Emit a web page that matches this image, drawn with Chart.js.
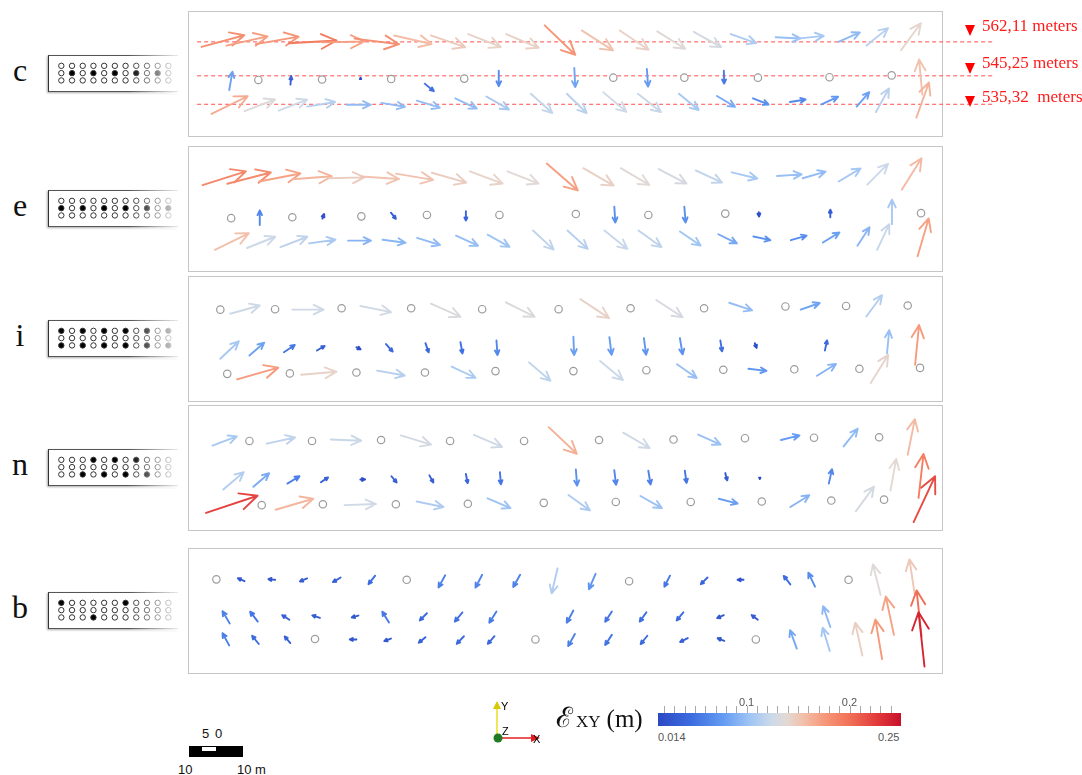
<!DOCTYPE html>
<html>
<head>
<meta charset="utf-8">
<script src="https://cdn.jsdelivr.net/npm/chart.js@4.4.1/dist/chart.umd.min.js"></script>
<style>
body{margin:0;background:#fff;width:1082px;height:775px;position:relative;overflow:hidden;font-family:"Liberation Sans",Arial,sans-serif;color:#111}
canvas{position:absolute;display:block}
.panel{position:absolute;left:188px;width:755px;height:126px;border:1px solid #c6c6c6;box-sizing:border-box}
.letter{position:absolute;left:4px;width:32px;text-align:center;font-family:"Liberation Serif",serif;font-size:32px;line-height:32px}
.iconbox{position:absolute;left:48px;width:130px;height:37px;box-sizing:border-box;border-left:1px solid #333;border-top:1px solid #555;border-bottom:1px solid #555;box-shadow:-1px 1px 2px #aaa}
.fade{position:absolute;left:128px;width:54px;height:41px;background:linear-gradient(to right,rgba(255,255,255,0),rgba(255,255,255,0.95))}
.lvl{position:absolute;left:982px;font-family:"Liberation Serif",serif;font-size:17px;line-height:17px;color:#ff1a1a;white-space:pre}
.tri{position:absolute;left:965px;width:0;height:0;border-left:5.5px solid transparent;border-right:5.5px solid transparent;border-top:11px solid #f00}
.txt{position:absolute;font-size:13px;line-height:13px}
</style>
</head>
<body>
<script>
// vector glyphs: [x (m), y (m), dx (m), dy (m)] ; circles: [x, y]
const cArrows = [
[1.7,18.5,.173,.051],[6.7,18.8,.167,.040],[12.7,19.1,.173,.033],[19.4,19.3,.193,.012],[26.1,19.5,.172,.004],[32.7,20.3,.180,-.024],[40.7,21.0,.152,-.037],[48.1,21.0,.140,-.051],[55.7,21.3,.132,-.056],[63.4,21.3,.132,-.060],[71.2,23.2,.124,-.128],[78.7,22.1,.127,-.087],[86.4,22.1,.117,-.084],[94.0,21.9,.113,-.076],[101.4,21.8,.111,-.067],[108.9,21.3,.103,-.039],[118.0,20.6,.100,-.005],[122.4,20.3,.107,.012],[130.7,19.6,.087,.041],[136.4,18.8,.087,.076],[143.4,17.8,.080,.117],
[7.3,9.1,.013,.080],[19.7,10.3,.003,.036],[33.9,11.5,0,.006],[46.9,10.5,.037,-.033],[61.9,13.3,0,-.067],[77.2,13.9,.004,-.083],[91.9,13.7,.005,-.077],[107.5,13.3,.001,-.056],[147.7,8.1,-.013,.153],
[3.7,3.9,.147,.077],[10.4,4.5,.124,.051],[17.3,4.6,.116,.048],[23.1,5.5,.113,.020],[31.1,5.9,.097,0],[38.1,6.3,.096,-.017],[45.3,6.8,.093,-.031],[53.1,7.3,.087,-.045],[59.4,7.7,.091,-.057],[68.4,8.3,.087,-.084],[75.7,8.3,.080,-.084],[83.1,8.6,.093,-.085],[90.1,8.3,.093,-.080],[98.4,8.3,.080,-.071],[106.1,7.8,.073,-.047],[113.4,7.3,.063,-.027],[120.9,6.5,.063,.011],[127.3,6.0,.067,.033],[134.4,5.5,.051,.063],[138.3,4.3,.053,.103],[146.5,3.1,.051,.153]
];
const cCircles = [[13.2,11.3],[26.1,11.4],[40.1,11.5],[54.9,11.6],[85.1,11.8],[99.5,11.8],[114.4,11.8],[128.9,11.9],[141.5,12.3]];

const eArrows = [
[1.9,17.8,.176,.060],[6.9,18.1,.177,.049],[13.4,18.6,.167,.035],[20.1,19.1,.160,.013],[27.4,19.3,.147,.004],[34.1,19.7,.153,-.011],[41.1,20.3,.151,-.027],[48.4,20.5,.140,-.043],[56.1,20.8,.133,-.053],[63.7,20.8,.127,-.053],[71.7,22.5,.126,-.117],[79.1,21.5,.123,-.076],[86.7,21.5,.116,-.073],[94.4,21.3,.113,-.063],[101.9,21.0,.107,-.053],[109.2,20.6,.104,-.027],[118.4,19.8,.100,.007],[123.6,19.3,.093,.029],[130.9,18.6,.089,.057],[136.7,17.9,.084,.091],[143.7,16.8,.080,.137],
[13.5,9.1,0,.064],[26.2,10.5,.007,.020],[40.1,11.8,.020,-.027],[55.3,12.1,0,-.040],[85.4,13.1,.004,-.069],[99.6,13.1,.005,-.069],[114.7,11.9,.001,-.019],[129.2,10.8,0,.033],[141.7,9.3,0,.107],
[4.4,3.7,.137,.072],[10.9,4.1,.115,.049],[17.7,4.3,.109,.045],[23.5,5.1,.107,.016],[31.4,5.7,.093,0],[38.4,5.9,.093,-.013],[45.4,6.3,.093,-.031],[53.3,6.8,.089,-.044],[59.7,7.0,.089,-.053],[68.9,7.9,.084,-.083],[75.9,7.9,.082,-.080],[83.4,7.9,.093,-.080],[90.3,7.9,.093,-.072],[98.7,7.7,.084,-.061],[106.5,7.1,.075,-.040],[113.6,6.6,.069,-.016],[121.2,5.8,.064,.020],[127.7,5.3,.067,.044],[134.7,4.6,.049,.080],[138.7,3.7,.049,.112],[146.9,2.3,.045,.165]
];
const eCircles = [[7.7,10.6],[20.1,10.8],[34.1,11.0],[47.4,11.3],[62.1,11.3],[77.6,11.5],[92.3,11.3],[107.9,11.6],[147.6,11.7]];

const iArrows = [
[7.5,18.1,.120,.036],[20.1,19.0,.127,0],[33.9,19.8,.125,-.027],[48.2,20.3,.120,-.057],[63.4,20.6,.117,-.063],[78.5,21.3,.117,-.083],[93.9,21.1,.107,-.075],[108.7,20.5,.093,-.033],[123.2,19.0,.077,.029],[136.5,17.5,.064,.093],
[5.5,8.3,.075,.076],[11.4,9.0,.060,.056],[18.4,9.7,.044,.032],[25.1,10.1,.031,.020],[33.1,10.8,.017,-.009],[39.1,11.5,.027,-.033],[47.1,11.7,.013,-.040],[54.2,11.9,.008,-.049],[61.5,12.3,.004,-.064],[77.1,13.1,.003,-.080],[84.4,13.0,.009,-.077],[91.4,12.8,.009,-.073],[98.7,12.8,.011,-.071],[106.9,12.3,.007,-.048],[113.9,11.7,.007,-.021],[128.1,10.1,.009,.044],[140.7,9.5,.009,.100],[146.4,7.0,.016,.173],
[8.9,3.8,.167,.051],[21.9,4.8,.143,.013],[37.3,5.7,.112,-.021],[52.4,6.6,.097,-.049],[68.1,7.5,.087,-.080],[82.5,7.8,.093,-.083],[98.1,7.1,.080,-.060],[112.6,6.1,.073,-.009],[126.5,4.6,.077,.051],[137.4,3.0,.071,.123]
];
const iCircles = [[5.5,19.0],[16.6,19.1],[30.1,19.3],[44.2,19.3],[58.6,19.1],[74.1,19.1],[88.7,19.3],[103.6,19.3],[120.1,19.7],[132.4,19.8],[144.9,19.9],
[6.9,5.0],[19.6,5.1],[33.1,5.3],[47.0,5.3],[61.3,5.6],[77.1,5.6],[91.9,5.8],[107.5,5.9],[121.9,6.0],[135.1,6.1],[147.4,6.3]];

const nArrows = [
[3.9,17.5,.099,.040],[14.9,17.9,.115,.027],[27.9,18.8,.123,-.005],[42.1,19.7,.123,-.040],[56.9,19.8,.115,-.052],[72.1,21.5,.114,-.116],[87.2,20.3,.107,-.067],[102.4,19.9,.091,-.044],[119.2,18.7,.075,.020],[131.9,17.3,.057,.077],[144.9,15.5,.029,.155],
[6.1,7.9,.083,.076],[12.2,8.5,.064,.059],[19.1,9.2,.049,.032],[25.9,9.5,.029,.021],[33.9,10.1,.019,0],[40.2,10.8,.021,-.027],[47.9,11.0,.016,-.031],[55.3,11.3,.007,-.040],[62.2,11.7,.004,-.053],[77.6,12.3,.005,-.071],[85.4,12.1,.007,-.063],[92.3,12.0,.009,-.060],[99.7,12.0,.007,-.053],[107.9,11.5,.008,-.032],[114.9,10.5,0,-.006],[128.9,9.2,.013,.063],[141.4,7.7,.023,.137],[147.1,6.1,.020,.191],
[2.6,2.8,.209,.075],[16.7,3.5,.153,.048],[30.7,4.5,.127,.005],[45.3,5.3,.109,-.024],[59.7,6.0,.093,-.043],[76.1,6.7,.087,-.067],[90.7,6.5,.087,-.053],[106.6,5.9,.076,-.021],[121.1,4.1,.077,.051],[134.4,3.2,.073,.107],[146.1,0.8,.087,.200]
];
const nCircles = [[11.4,18.5],[24.1,18.5],[38.1,18.7],[52.1,18.5],[67.1,18.5],[82.3,18.7],[97.4,18.8],[111.9,19.1],[125.9,19.2],[139.1,19.3],
[13.9,4.5],[26.3,4.7],[41.1,4.7],[55.7,4.8],[71.1,5.0],[85.7,5.2],[100.9,5.2],[115.3,5.3],[129.4,5.5],[140.1,5.7]];

const bArrows = [
[10.4,19.1,-.027,.013],[16.6,19.4,-.027,.003],[23.1,19.7,-.029,-.013],[29.9,19.9,-.031,-.020],[36.9,20.3,-.027,-.037],[51.1,20.4,-.027,-.053],[58.6,20.5,-.027,-.056],[66.3,20.5,-.028,-.053],[73.9,21.9,-.024,-.109],[81.6,20.7,-.027,-.067],[96.7,20.3,-.023,-.048],[104.3,19.9,-.027,-.029],[111.6,19.4,-.024,0],[121.1,18.4,-.027,.037],[126.1,17.9,-.027,.061],[139.4,16.1,-.031,.133],[146.3,16.4,-.021,.149],
[7.4,9.9,-.029,.053],[13.1,10.3,-.031,.043],[19.5,10.7,-.029,.020],[25.7,11.1,-.031,.011],[33.5,11.6,-.027,-.008],[39.7,10.1,-.027,.047],[47.4,12.1,-.029,-.031],[54.6,12.3,-.031,-.040],[61.5,12.5,-.029,-.049],[77.1,12.7,-.027,-.053],[84.9,12.5,-.027,-.045],[91.9,12.3,-.027,-.040],[99.4,12.3,-.027,-.035],[107.6,11.7,-.027,-.013],[114.5,10.7,-.025,.020],[129.2,9.1,-.029,.091],[142.1,7.4,-.033,.167],[147.7,7.1,-.020,.200],
[7.3,5.1,-.027,.053],[13.3,5.4,-.027,.036],[19.7,5.6,-.023,.029],[33.1,6.4,-.027,0],[40.1,6.6,-.027,-.011],[47.1,6.9,-.027,-.024],[54.9,7.1,-.029,-.033],[61.1,7.1,-.027,-.033],[77.4,7.6,-.027,-.053],[84.9,7.4,-.027,-.044],[92.1,7.2,-.027,-.036],[100.3,6.7,-.031,-.017],[107.7,6.1,-.027,.011],[122.4,4.4,-.027,.080],[129.1,3.9,-.029,.101],[135.7,2.9,-.029,.143],[139.7,2.1,-.027,.173],[148.3,0.5,-.024,.237]
];
const bCircles = [[4.7,19.5],[43.3,19.4],[88.4,19.1],[132.9,19.4],[24.7,6.5],[69.4,6.4],[114.1,6.4]];

// filled holes in the little section icons (columns, per row)
const iconC = [[], [2,4,6,8,10], []];
const iconE = [[], [1,3,5,7,9,11], []];
const iconI = [[1,3,5,7,9,11], [], [1,3,5,7,9,11]];
const iconN = [[4,6,8], [], [3,5,7,9]];
const iconB = [[1,7], [], [4]];

// reference levels drawn on panel c
const levelY = [19.6, 12.2, 6.0];
const levelNames = ['562,11 meters', '545,25 meters', '535,32  meters'];

// colour bar
const cbMin = 0.014, cbMax = 0.25;
const cbLabels = [0.1, 0.2];
const cbStep = 0.01;
const cmapStops = [[0,'#2b48c4'],[0.14,'#3d6de0'],[0.27,'#659cf2'],[0.38,'#a0c5f4'],[0.47,'#cdd9e8'],[0.53,'#e3d9d3'],[0.6,'#f3bfa9'],[0.68,'#f69a7c'],[0.78,'#f27459'],[0.9,'#e23b3c'],[1,'#c70f2a']];

const G = 50; // glyph scale, data units per metre of displacement
const pxPerM = 5;

Chart.defaults.font.family = "Liberation Sans";

function hexRgb(h){
return [parseInt(h.slice(1,3),16), parseInt(h.slice(3,5),16), parseInt(h.slice(5,7),16)];
}
function cmap(v){
let t = (v-cbMin)/(cbMax-cbMin);
t = Math.max(0, Math.min(1, t));
for(let i=1;i<cmapStops.length;i++){
if(t <= cmapStops[i][0]){
const [t0,c0] = cmapStops[i-1], [t1,c1] = cmapStops[i];
const f = (t-t0)/(t1-t0);
const a = hexRgb(c0), b = hexRgb(c1);
return `rgb(${a.map((x,k)=>Math.round(x+(b[k]-x)*f)).join(',')})`;
}
}
return cmapStops[cmapStops.length-1][1];
}

const arrowPlugin = {
id:'arrows',
afterDatasetsDraw(chart){
const {ctx, scales:{x, y}} = chart;
chart.data.datasets.forEach(ds => {
if(!ds.vectors) return;
ds.data.forEach(p => {
const x0 = x.getPixelForValue(p.x), y0 = y.getPixelForValue(p.y);
const x1 = x.getPixelForValue(p.x + G*p.dx), y1 = y.getPixelForValue(p.y + G*p.dy);
const len = Math.hypot(x1-x0, y1-y0);
const a = Math.atan2(y1-y0, x1-x0);
const h = Math.min(len, Math.max(3, len*0.32)), w = h*0.48;
const bx = x1 - h*Math.cos(a), by = y1 - h*Math.sin(a);
ctx.save();
ctx.strokeStyle = cmap(Math.hypot(p.dx, p.dy));
ctx.lineWidth = 1.9;
ctx.lineCap = 'round';
ctx.lineJoin = 'round';
ctx.beginPath();
ctx.moveTo(x0, y0);
ctx.lineTo(x1, y1);
ctx.moveTo(bx + w*Math.sin(a), by - w*Math.cos(a));
ctx.lineTo(x1, y1);
ctx.lineTo(bx - w*Math.sin(a), by + w*Math.cos(a));
ctx.stroke();
ctx.restore();
});
});
}
};

// tick marks and labels above the colour bar, placed with the bar's x scale
const cbTickPlugin = {
id:'cbTicks',
afterDraw(chart){
const {ctx, chartArea:a, scales:{x}} = chart;
ctx.save();
ctx.strokeStyle = '#a8a8a8';
ctx.lineWidth = 1;
for(let v = 0.02; v < cbMax; v += cbStep){
const px = Math.round(x.getPixelForValue(v)) + 0.5;
ctx.beginPath();
ctx.moveTo(px, a.top - 7);
ctx.lineTo(px, a.top);
ctx.stroke();
}
ctx.fillStyle = '#555';
ctx.font = '11px "Liberation Sans"';
ctx.textAlign = 'center';
ctx.textBaseline = 'alphabetic';
cbLabels.forEach(v => ctx.fillText(String(v), x.getPixelForValue(v), a.top - 7));
ctx.restore();
}
};

function addEl(cls, css, text){
const d = document.createElement('div');
d.className = cls;
d.style.cssText = css;
if(text) d.textContent = text;
document.body.appendChild(d);
return d;
}
function addCanvas(left, top, w, h){
const c = document.createElement('canvas');
c.width = w; c.height = h;
c.style.left = left+'px'; c.style.top = top+'px';
document.body.appendChild(c);
return c;
}

function makeIcon(top, filled){
addEl('iconbox', `top:${top}px`);
const pts = [], fill = [];
for(let r=1;r<=3;r++){
for(let k=1;k<=11;k++){
pts.push({x:k, y:r});
fill.push(filled[r-1].includes(k) ? '#000' : '#fff');
}
}
new Chart(addCanvas(48, top, 130, 37), {
type:'scatter',
data:{datasets:[{data:pts, pointRadius:2.7, pointBorderWidth:1, pointBorderColor:'#333', pointBackgroundColor:fill}]},
options:{responsive:false, animation:false, devicePixelRatio:1, events:[],
plugins:{legend:{display:false}, tooltip:{enabled:false}},
scales:{x:{display:false, min:0.224, max:11.43}, y:{display:false, min:0.2, max:3.9, reverse:true}}}
});
addEl('fade', `top:${top-2}px`);
}

function makePanel(letter, top, arrows, circles, icon, extra){
addEl('panel', `top:${top}px`);
addEl('letter', `top:${top+43}px`, letter);
makeIcon(top+44, icon);
const w = extra ? 817 : 755;
const datasets = [
{data:circles.map(([x,y]) => ({x,y})), pointRadius:3.7, pointBorderWidth:1.2, pointBorderColor:'#9c9c9c', pointBackgroundColor:'#fff'},
{data:arrows.map(([x,y,dx,dy]) => ({x,y,dx,dy})), pointRadius:0, vectors:true}
];
if(extra){
levelY.forEach(v => datasets.push({type:'line', data:[{x:0.8,y:v},{x:162.4,y:v}], borderColor:'#ff4d4d', borderWidth:1, borderDash:[4,3], pointRadius:0}));
}
new Chart(addCanvas(188, top, w, 126), {
type:'scatter',
data:{datasets},
options:{responsive:false, animation:false, devicePixelRatio:1, events:[],
layout:{padding:0},
plugins:{legend:{display:false}, tooltip:{enabled:false}},
scales:{x:{display:false, min:0, max:w/pxPerM}, y:{display:false, min:0, max:126/pxPerM}}},
plugins:[arrowPlugin]
});
}

makePanel('c', 11, cArrows, cCircles, iconC, true);
makePanel('e', 146, eArrows, eCircles, iconE, false);
makePanel('i', 276, iArrows, iCircles, iconI, false);
makePanel('n', 405, nArrows, nCircles, iconN, false);
makePanel('b', 548, bArrows, bCircles, iconB, false);

// level labels
[25, 63, 96].forEach(t => addEl('tri', `top:${t}px`));
[17, 54, 88].forEach((t,i) => addEl('lvl', `top:${t}px`, levelNames[i]));

// colour bar
new Chart(addCanvas(640, 686, 280, 42), {
type:'bar',
data:{labels:[''], datasets:[{data:[[cbMin, cbMax]], borderWidth:0, barPercentage:1, categoryPercentage:1,
backgroundColor: c => {
const a = c.chart.chartArea;
if(!a) return '#ccc';
const g = c.chart.ctx.createLinearGradient(a.left, 0, a.right, 0);
cmapStops.forEach(([t,col]) => g.addColorStop(t, col));
return g;
}}]},
options:{indexAxis:'y', responsive:false, animation:false, devicePixelRatio:1, events:[],
layout:{padding:{top:27, bottom:2, left:18, right:19}},
plugins:{legend:{display:false}, tooltip:{enabled:false}},
scales:{x:{display:false, type:'linear', min:cbMin, max:cbMax}, y:{display:false}}},
plugins:[cbTickPlugin]
});
addEl('txt', 'left:658px;top:731px;font-size:11px;color:#555', '0.014');
addEl('txt', 'left:878px;top:731px;font-size:11px;color:#555', '0.25');
</script>

<div style="position:absolute;left:556px;top:697px;font-family:'Liberation Serif',serif;white-space:nowrap;color:#111">
<span style="font-family:'DejaVu Serif',serif;font-size:28px">ℰ</span><span style="font-size:17px;margin-left:3px">XY</span><span style="font-size:25px;margin-left:6px">(m)</span>
</div>

<svg style="position:absolute;left:485px;top:695px" width="60" height="52">
<line x1="12" y1="43" x2="12" y2="12" stroke="#e8d800" stroke-width="1.3"/>
<polygon points="8,14 16,14 12,6" fill="#d8c800"/>
<text x="16" y="15" font-family="Liberation Sans" font-size="11">Y</text>
<line x1="13" y1="43" x2="48" y2="43" stroke="#e02020" stroke-width="1.3"/>
<polygon points="46,39 46,47 55,43" fill="#e02020"/>
<text x="48" y="48" font-family="Liberation Sans" font-size="11">X</text>
<circle cx="13" cy="43" r="4.5" fill="#1f7a23"/>
<text x="17" y="40" font-family="Liberation Sans" font-size="11">Z</text>
</svg>

<div class="txt" style="left:202px;top:727px">5</div>
<div class="txt" style="left:215px;top:727px">0</div>
<div style="position:absolute;left:189px;top:746px;width:54px;height:11px;border:1px solid #000;box-sizing:border-box"></div>
<div style="position:absolute;left:189px;top:746px;width:13px;height:11px;background:#000"></div>
<div style="position:absolute;left:202px;top:751px;width:14px;height:6px;background:#000"></div>
<div style="position:absolute;left:216px;top:746px;width:27px;height:11px;background:#000"></div>
<div class="txt" style="left:178px;top:763px">10</div>
<div class="txt" style="left:237px;top:763px">10 m</div>
</body>
</html>
